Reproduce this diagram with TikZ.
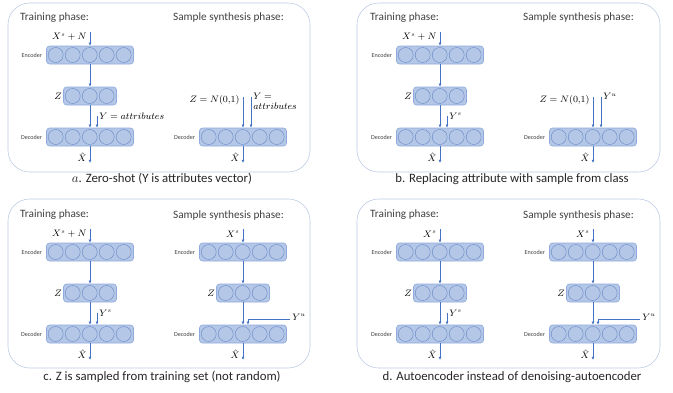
\documentclass[tikz,border=0pt]{standalone}
\usepackage{amsmath}
\usepackage{fontspec}
\setmainfont{Carlito}
\usepackage{xcolor}
\usetikzlibrary{positioning, arrows.meta, calc}
\definecolor{bleucouche}{RGB}{180, 199, 231}
\definecolor{bleutrait}{RGB}{143, 170, 220}
\definecolor{bleucercle}{RGB}{110, 140, 200}
\definecolor{bleufleche}{RGB}{68, 114, 196}
\definecolor{bleucadre}{RGB}{190, 203, 228}
\definecolor{gristexte}{RGB}{64, 64, 64}

\begin{document}
\begin{tikzpicture}[x=0.03cm, y=-0.03cm, font=\fontsize{9.6}{11}\selectfont,
    bloc/.style={draw=bleutrait, fill=bleucouche, rounded corners=2.5pt, line width=0.5pt, minimum height=0.54cm, inner sep=0pt},
    neurone/.style={draw=bleucercle, line width=0.4pt},
    fleche/.style={-{Latex[length=2.6pt, width=2.4pt]}, bleufleche, line width=0.7pt},
    cadre/.style={draw=bleucadre, rounded corners=0.65cm, line width=0.5pt},
    phase/.style={anchor=west, text=gristexte},
    etiq/.style={font=\fontsize{5.2}{6}\selectfont, text=gristexte, inner sep=0pt},
    maths/.style={font=\fontsize{7.8}{9}\selectfont, inner sep=1pt},
    legende/.style={font=\fontsize{10.9}{13}\selectfont, text=black!85}]
    \useasboundingbox (0,0) rectangle (673,393);
    % a layer: name, centre, number of units
    \def\couche#1#2#3{
      \node[bloc, minimum width={#3*0.51cm+0.06cm}] (#1) at #2 {};
      \foreach \i in {1,...,#3}
        \draw[neurone] ($(#1.west)+({(\i-0.5)*17+1},0)$) circle (7.5);
    }
    % training column: suffix, input, side input
    \def\entrainement#1#2#3{
      \node[phase] at (16,18) {Training phase:};
      \couche{enc#1}{(90,55)}{5}
      \node[etiq, left=0.12cm of enc#1] {Encoder};
      \coordinate (in#1) at (90,32);
      \node[maths, anchor=east] at (88,37) {$#2$};
      \draw[fleche] (in#1) -- (enc#1.north);
      \couche{z#1}{(90,96)}{3}
      \node[maths, left=0pt of z#1] {$Z$};
      \draw[fleche] (enc#1) -- (z#1);
      \couche{dec#1}{(90,137)}{5}
      \node[etiq, left=0.12cm of dec#1] {Decoder};
      \draw[fleche] (z#1) -- (dec#1);
      \coordinate (y#1) at (97,116);
      \draw[fleche] (y#1) -- (y#1 |- dec#1.north);
      \node[maths, anchor=west] at (98,116) {$#3$};
      \coordinate (out#1) at (90,163);
      \draw[fleche] (dec#1) -- (out#1);
      \node[maths, anchor=east] at (88,157) {$\hat{X}$};
    }
    % synthesis column, decoder only
    \def\synthdec#1#2{
      \node[phase] at (169,18) {Sample synthesis phase:};
      \couche{decS#1}{(243,137)}{5}
      \node[etiq, left=0.12cm of decS#1] {Decoder};
      \coordinate (zS#1) at (243,97);
      \coordinate (yS#1) at (251,97);
      \draw[fleche] (zS#1) -- (zS#1 |- decS#1.north);
      \draw[fleche] (yS#1) -- (yS#1 |- decS#1.north);
      \node[maths, anchor=east] at (241,100) {$Z = N(0{,}1)$};
      \node[maths, anchor=north west, align=left] at (252,92) {#2};
      \coordinate (outS#1) at (243,163);
      \draw[fleche] (decS#1) -- (outS#1);
      \node[maths, anchor=east] at (241,157) {$\hat{X}$};
    }
    % synthesis column, full chain
    \def\synthfull#1{
      \node[phase] at (169,18) {Sample synthesis phase:};
      \couche{encS#1}{(243,55)}{5}
      \node[etiq, left=0.12cm of encS#1] {Encoder};
      \coordinate (inS#1) at (243,32);
      \node[maths, anchor=east] at (241,37) {$X^s$};
      \draw[fleche] (inS#1) -- (encS#1.north);
      \couche{zS#1}{(243,96)}{3}
      \node[maths, left=0pt of zS#1] {$Z$};
      \draw[fleche] (encS#1) -- (zS#1);
      \couche{decS#1}{(243,137)}{5}
      \node[etiq, left=0.12cm of decS#1] {Decoder};
      \draw[fleche] (zS#1) -- (decS#1);
      \coordinate (yS#1) at (290,122);
      \draw[fleche] (yS#1) -| ($(decS#1.north)+(5,0)$);
      \node[maths, anchor=west] at (291,120) {$Y^u$};
      \coordinate (outS#1) at (243,163);
      \draw[fleche] (decS#1) -- (outS#1);
      \node[maths, anchor=east] at (241,157) {$\hat{X}$};
    }
    % a
    \begin{scope}
      \draw[cadre] (8,3) rectangle (310,172);
      \entrainement{A}{X^s + N}{Y = attributes}
      \synthdec{A}{$Y =$\\[-1pt]$attributes$}
      \node[legende] at (162,179) {$a$. Zero-shot (Y is attributes vector)};
    \end{scope}
    % b
    \begin{scope}[shift={(350,0)}]
      \draw[cadre] (7,3) rectangle (310,172);
      \entrainement{B}{X^s + N}{Y^s}
      \synthdec{B}{$Y^u$}
      \node[legende] at (162,179) {b. Replacing attribute with sample from class};
    \end{scope}
    % c
    \begin{scope}[shift={(0,197)}]
      \draw[cadre] (8,2) rectangle (310,171);
      \entrainement{C}{X^s + N}{Y^s}
      \synthfull{C}
      \node[legende] at (162,180) {c. Z is sampled from training set (not random)};
    \end{scope}
    % d
    \begin{scope}[shift={(350,197)}]
      \draw[cadre] (7,2) rectangle (310,171);
      \entrainement{D}{X^s}{Y^s}
      \synthfull{D}
      \node[legende] at (162,180) {d. Autoencoder instead of denoising-autoencoder};
    \end{scope}
  \end{tikzpicture}
\end{document}
